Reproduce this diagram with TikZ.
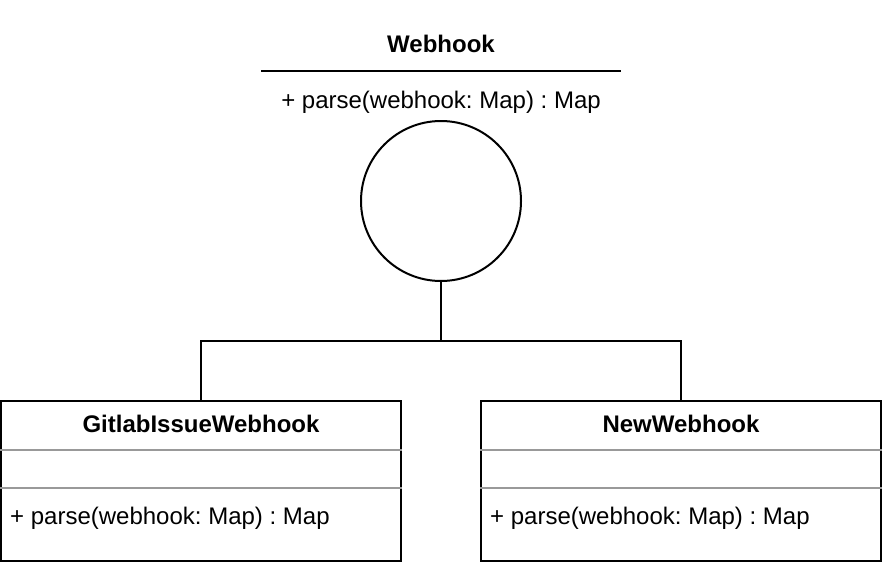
\documentclass[tikz,border=0pt]{standalone}
\usepackage{fontspec}
\setmainfont{Liberation Sans}
\frenchspacing
\usetikzlibrary{positioning}
\begin{document}
\begin{tikzpicture}[x=1pt,y=-1pt,
  label txt/.style={font=\fontsize{24}{28}\selectfont, inner sep=0pt, anchor=base},
  title txt/.style={label txt, font=\fontsize{24}{28}\selectfont\bfseries},
  classbox/.style={draw, line width=2pt, minimum width=400pt, minimum height=160pt, inner sep=0pt},
  sepline/.style={draw=black!40, line width=2pt},
  conn/.style={line width=2pt}]
\useasboundingbox (0,0) rectangle (882,562);
% interface
\node[title txt] (webhook) at (441,52) {Webhook};
\coordinate (barL) at (261,71);
\coordinate (barR) at (621,71);
\draw[conn] (barL) -- (barR);
\node[label txt] (wparse) at (441,108) {+ parse(webhook: Map) : Map};
\node[draw, circle, line width=2pt, minimum size=160pt, inner sep=0pt] (lollipop) at (441,201) {};
% classes
\node[classbox] (gitlab) at (201,481) {};
\node[classbox] (newhook) at (681,481) {};
\node[title txt] (gtitle) at (201,432) {GitlabIssueWebhook};
\node[title txt] (ntitle) at (681,432) {NewWebhook};
\draw[sepline] ([yshift=-50pt]gitlab.north west) -- ([yshift=-50pt]gitlab.north east);
\draw[sepline] ([yshift=-88pt]gitlab.north west) -- ([yshift=-88pt]gitlab.north east);
\draw[sepline] ([yshift=-50pt]newhook.north west) -- ([yshift=-50pt]newhook.north east);
\draw[sepline] ([yshift=-88pt]newhook.north west) -- ([yshift=-88pt]newhook.north east);
\node[label txt, anchor=base west] (gparse) at (10,524) {+ parse(webhook: Map) : Map};
\node[label txt, anchor=base west] (nparse) at (490,524) {+ parse(webhook: Map) : Map};
% realization
\coordinate (fork) at (441,341);
\draw[conn] (lollipop.south) -- (fork);
\draw[conn] (gitlab.north) |- (fork) -| (newhook.north);
\end{tikzpicture}
\end{document}
